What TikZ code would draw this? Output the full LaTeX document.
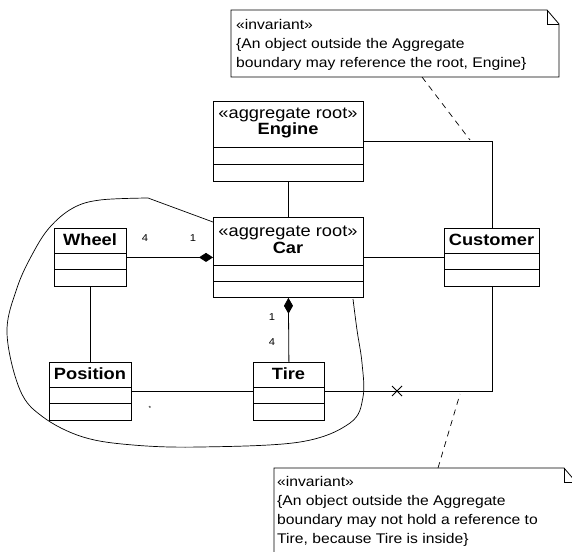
\documentclass[tikz,border=0pt]{standalone}
\usepackage{fontspec}
\setmainfont{Liberation Sans}[FakeStretch=1.12]
\usetikzlibrary{arrows.meta}

\tikzset{
  line/.style={draw=black, line width=0.8pt},
  classbox/.style={draw, line width=0.8pt, inner sep=0pt, anchor=north west},
  classtext/.style={align=center, inner sep=0pt, font=\fontsize{16.3}{16.5}\selectfont},
  notetext/.style={align=left, anchor=north west, inner sep=0pt, font=\fontsize{14}{19}\selectfont},
  mult/.style={inner sep=0pt, font=\fontsize{10}{10}\selectfont},
  composite/.style={-{Diamond[length=14pt,width=9pt]}},
  anchorline/.style={line width=0.7pt, dash pattern=on 6pt off 5pt},
}

% class box: name, left, top, right, header bottom, bottom, title
\newcommand\umlclass[7]{%
  \node[classbox, minimum width={(#4-#2)*1pt}, minimum height={(#6-#3)*1pt}] (#1) at (#2,#3) {};
  \node[classtext] (#1-title) at ({(#2+#4)/2},{(#3+#5)/2-1}) {#7};
  \draw[line] (#2,#5) -- (#4,#5);
  \draw[line] (#2,{(#5+#6)/2}) -- (#4,{(#5+#6)/2});
}

\begin{document}
\begin{tikzpicture}[x=1pt,y=-1pt]
\useasboundingbox (0,0) rectangle (572,551);
\clip (0,0) rectangle (572,551);

% classes
\umlclass{engine}{213}{101}{363}{147}{181}{«aggregate root»\\\textbf{Engine}}
\umlclass{car}{213}{217}{363}{265}{297}{«aggregate root»\\\textbf{Car}}
\umlclass{wheel}{54}{228}{126}{253}{286}{\textbf{Wheel}}
\umlclass{position}{49}{362}{131}{387}{420}{\textbf{Position}}
\umlclass{tire}{253}{362}{324}{387}{420}{\textbf{Tire}}
\umlclass{customer}{444}{228}{539}{253}{286}{\textbf{Customer}}

% associations
\draw[line] (engine.south) -- (car.north);
\draw[line, composite] (wheel.east) -- (car.west);
\draw[line, {Diamond[length=16pt,width=9pt]}-] (car.south) -- (tire.north);
\draw[line] (wheel.south) -- (position.north);
\draw[line] (position.east) -- (tire.west);
\draw[line] (car.east) -- (customer.west);
\draw[line] (engine.east) -| (customer.north);
\draw[line] (tire.east) -| (customer.south);

% non-navigable mark
\coordinate (nonnav) at (397,391);
\draw[line] (nonnav) ++(-5,-5) -- ++(10,10) (nonnav) ++(-5,5) -- ++(10,-10);

% multiplicities
\node[mult] (m-wheel) at (145,238) {4};
\node[mult] (m-car) at (193,238) {1};
\node[mult] (m-tire1) at (272,317) {1};
\node[mult] (m-tire4) at (272,342) {4};
\node[inner sep=0pt, font=\fontsize{6}{6}\selectfont] (m-pos) at (150,408) {*};

% aggregate boundary
\draw[line, line width=0.7pt] (213,222) -- plot[smooth, tension=0.6] coordinates {
  (148,198) (100,200) (73,208) (50,227) (33,253) (17,288) (7,333) (20,390)
  (43,417) (83,437) (133,445) (200,447) (300,442) (350,423) (363,397)
  (362,363) (357,330) (353,299)};

% invariant notes
\draw[line] (231,10) -- (547,10) -- (559,24) -- (559,77) -- (231,77) -- cycle;
\draw[line] (547,10) -- (547,24) -- (559,24);
\node[notetext] (note1) at (236,19) {«invariant»\\\{An object outside the Aggregate\\boundary may reference the root, Engine\}};
\coordinate (note1-tail) at (422,77);
\coordinate (link1) at (470,140);
\draw[anchorline] (note1-tail) -- (link1);

\draw[line] (274,560) -- (274,468) -- (564,468) -- (576,482) -- (576,560);
\draw[line] (564,468) -- (564,482) -- (576,482);
\node[notetext] (note2) at (277,476) {«invariant»\\\{An object outside the Aggregate\\boundary may not hold a reference to\\Tire, because Tire is inside\}};
\coordinate (note2-tail) at (438,468);
\coordinate (link2) at (460,394);
\draw[anchorline] (note2-tail) -- (link2);
\end{tikzpicture}
\end{document}
